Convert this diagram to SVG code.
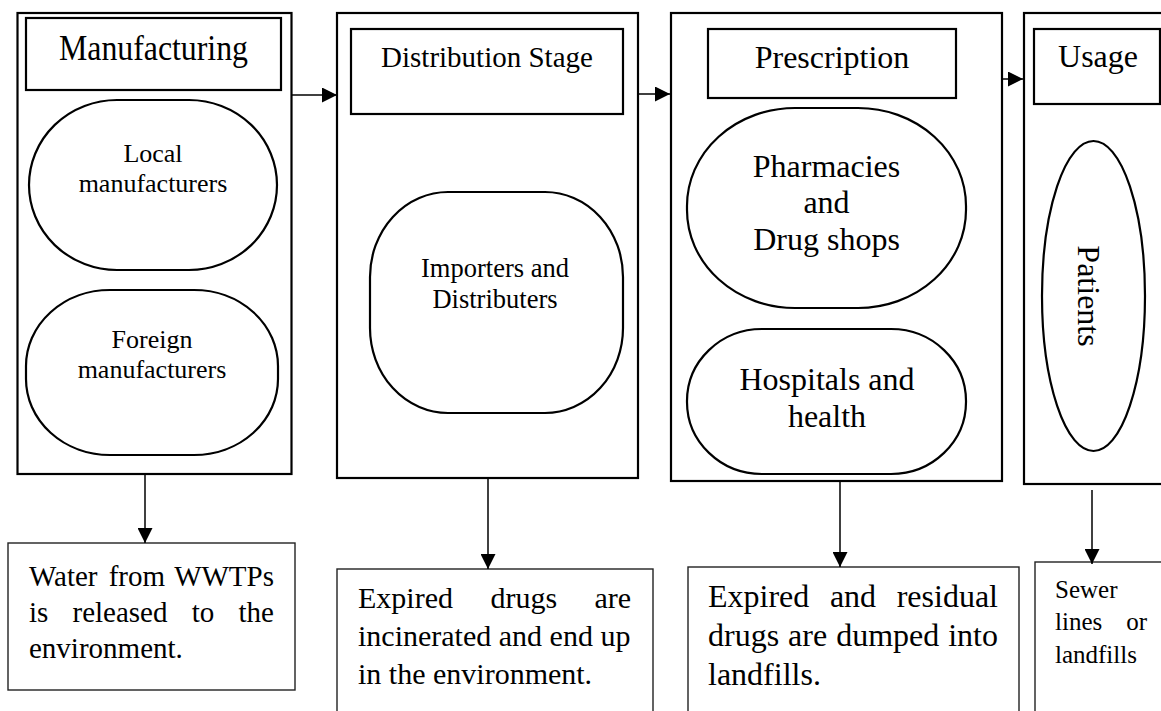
<svg xmlns="http://www.w3.org/2000/svg" width="1161" height="711" viewBox="0 0 1161 711">
<defs>
<marker id="ah" viewBox="0 0 15 15" refX="15" refY="7.5" markerUnits="userSpaceOnUse" markerWidth="15" markerHeight="15" orient="auto"><path d="M0,0 L15,7.5 L0,15 z" fill="#000"/></marker>
<style>
.stage{fill:#fff;stroke:#000;stroke-width:2.2}
.hdr{fill:#fff;stroke:#000;stroke-width:2.2}
.ov{fill:#fff;stroke:#000;stroke-width:2.2}
.note{fill:#fff;stroke:#222;stroke-width:1.4}
.t{font-family:"Liberation Serif","Times New Roman",serif;fill:#000}
.c{text-anchor:middle}
.conn{stroke:#000;stroke-width:1.5;fill:none;marker-end:url(#ah)}
</style>
</defs>
<rect width="1161" height="711" fill="#fff"/>

<g id="manufacturing">
<rect class="stage" x="17.5" y="13" width="274" height="461"/>
<rect class="hdr" x="26" y="18" width="255" height="72"/>
<text class="t c" x="153.5" y="60" font-size="35" textLength="189" lengthAdjust="spacingAndGlyphs">Manufacturing</text>
</g>
<g id="local">
<rect class="ov" x="29" y="100" width="248" height="170" rx="88" ry="85"/>
<text class="t c" x="153" y="162" font-size="26">Local</text>
<text class="t c" x="153" y="192" font-size="26">manufacturers</text>
</g>
<g id="foreign">
<rect class="ov" x="26" y="290" width="252" height="165" rx="84" ry="76"/>
<text class="t c" x="152" y="348" font-size="26">Foreign</text>
<text class="t c" x="152" y="378" font-size="26">manufacturers</text>
</g>

<g id="distribution">
<rect class="stage" x="337" y="13" width="301" height="465"/>
<rect class="hdr" x="351" y="29" width="272" height="85"/>
<text class="t c" x="487" y="67" font-size="29">Distribution Stage</text>
</g>
<g id="importers">
<rect class="ov" x="370" y="192" width="253" height="221" rx="78" ry="85"/>
<text class="t c" x="495" y="277" font-size="26.5">Importers and</text>
<text class="t c" x="495" y="308" font-size="26.5">Distributers</text>
</g>

<g id="prescription">
<rect class="stage" x="671" y="13" width="331" height="468"/>
<rect class="hdr" x="708" y="29" width="248" height="69"/>
<text class="t c" x="832" y="68" font-size="32">Prescription</text>
</g>
<g id="pharmacies">
<rect class="ov" x="687" y="108" width="279" height="200" rx="108" ry="98"/>
<text class="t c" x="826.5" y="177" font-size="32">Pharmacies</text>
<text class="t c" x="826.5" y="213" font-size="32">and</text>
<text class="t c" x="826.5" y="250" font-size="32">Drug shops</text>
</g>
<g id="hospitals">
<rect class="ov" x="687" y="329" width="279" height="145" rx="75" ry="72"/>
<text class="t c" x="827" y="390" font-size="32">Hospitals and</text>
<text class="t c" x="827" y="427" font-size="32">health</text>
</g>

<g id="usage">
<rect class="stage" x="1024" y="13" width="160" height="471"/>
<rect class="hdr" x="1034" y="29" width="126" height="75"/>
<text class="t c" x="1098" y="67" font-size="32">Usage</text>
</g>
<g id="patients">
<ellipse class="ov" cx="1093.5" cy="296" rx="51.5" ry="155"/>
<text class="t c" font-size="32" transform="translate(1078,296) rotate(90)" x="0" y="0">Patients</text>
</g>

<g id="water">
<rect class="note" x="8" y="543" width="287" height="147"/>
<text class="t" font-size="29" y="586"><tspan x="29">Water</tspan><tspan x="108.7">from</tspan><tspan x="274" text-anchor="end">WWTPs</tspan></text>
<text class="t" font-size="29" y="622"><tspan x="29">is</tspan><tspan x="72.5">released</tspan><tspan x="191.7">to</tspan><tspan x="274" text-anchor="end">the</tspan></text>
<text class="t" font-size="29" x="29" y="658">environment.</text>
</g>

<g id="incinerated">
<rect class="note" x="337" y="569" width="316" height="160"/>
<text class="t" font-size="30" y="608"><tspan x="358">Expired</tspan><tspan x="490.4">drugs</tspan><tspan x="631" text-anchor="end">are</tspan></text>
<text class="t" font-size="30" x="358" y="646">incinerated and end up</text>
<text class="t" font-size="30" x="358" y="684">in the environment.</text>
</g>

<g id="dumped">
<rect class="note" x="688" y="567" width="331" height="160"/>
<text class="t" font-size="32" y="607"><tspan x="708">Expired</tspan><tspan x="829.9">and</tspan><tspan x="998" text-anchor="end">residual</tspan></text>
<text class="t" font-size="32" y="646"><tspan x="708">drugs</tspan><tspan x="788.1">are</tspan><tspan x="836.2">dumped</tspan><tspan x="998" text-anchor="end">into</tspan></text>
<text class="t" font-size="32" x="708" y="685">landfills.</text>
</g>

<g id="sewer">
<rect class="note" x="1035" y="562" width="150" height="160"/>
<text class="t" font-size="25" x="1055" y="598">Sewer</text>
<text class="t" font-size="25" y="630"><tspan x="1055">lines</tspan><tspan x="1147" text-anchor="end">or</tspan></text>
<text class="t" font-size="25" x="1055" y="663">landfills</text>
</g>

<g id="connectors">
<line class="conn" x1="292" y1="95" x2="337" y2="95"/>
<line class="conn" x1="638" y1="94" x2="670" y2="94"/>
<line class="conn" x1="1003" y1="79" x2="1023" y2="79"/>
<line class="conn" x1="145" y1="475" x2="145" y2="543"/>
<line class="conn" x1="488" y1="479" x2="488" y2="569"/>
<line class="conn" x1="840" y1="482" x2="840" y2="567"/>
<line class="conn" x1="1092" y1="490" x2="1092" y2="564"/>
</g>
</svg>
